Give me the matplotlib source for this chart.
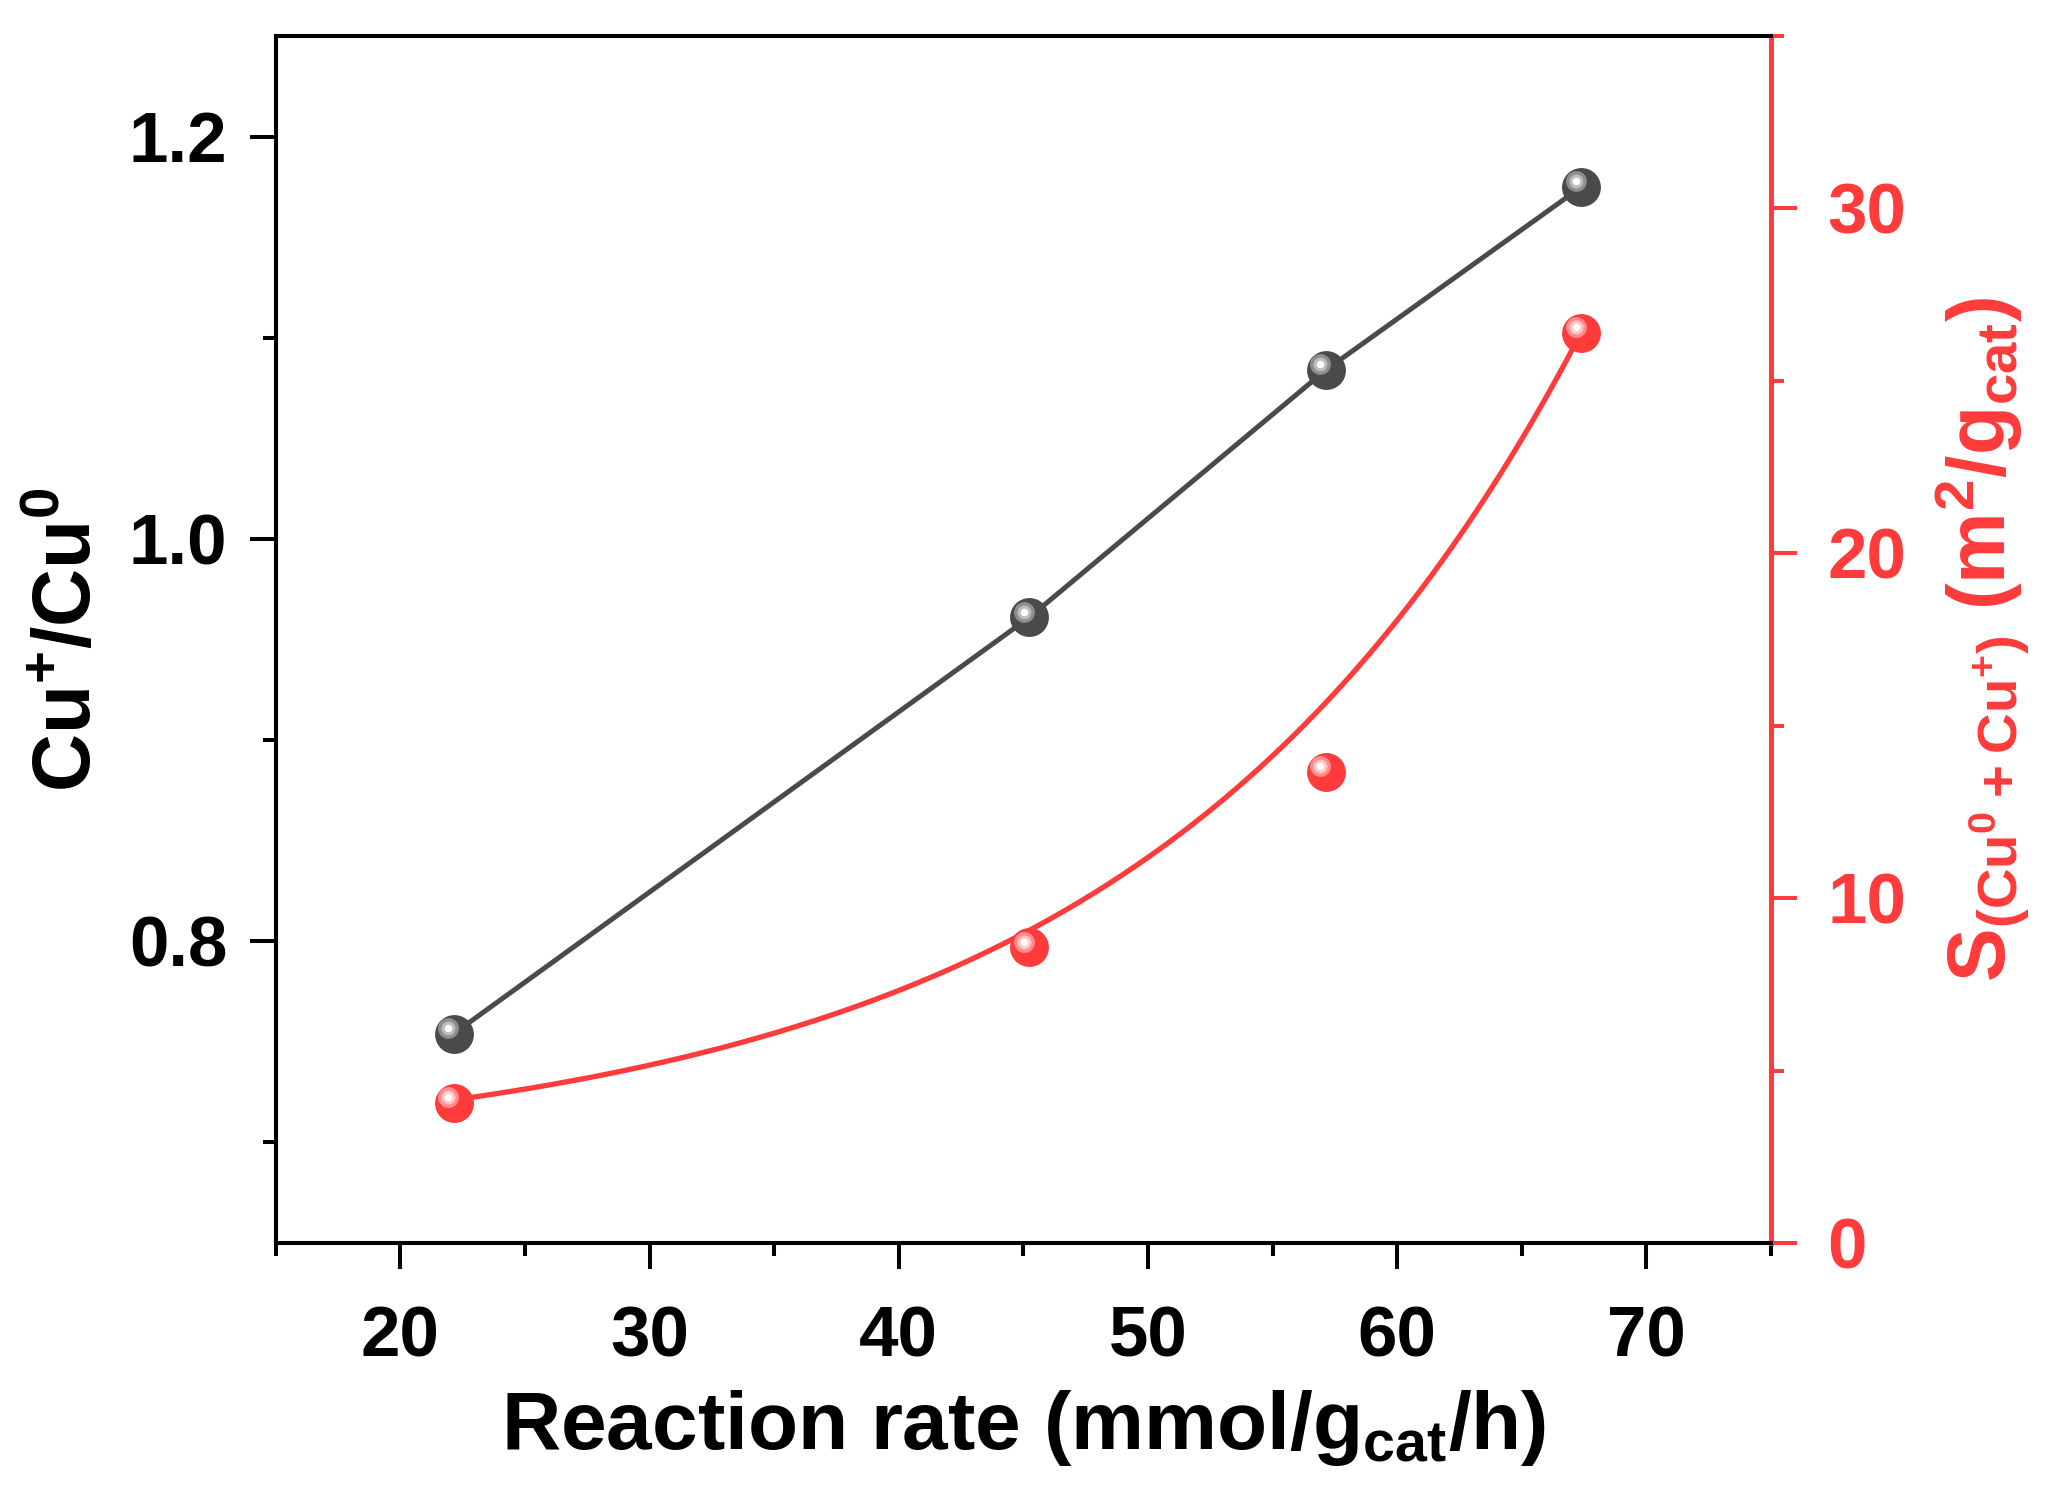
import numpy as np
import matplotlib
matplotlib.use('Agg')
import matplotlib.pyplot as plt
from matplotlib.transforms import offset_copy
from matplotlib.ticker import MultipleLocator

# dados
rate = [22.14, 45.24, 57.14, 67.39]          # mmol/gcat/h
cu_ratio = [0.754, 0.961, 1.084, 1.175]      # Cu+/Cu0
s_area = [4.06, 8.58, 13.66, 26.39]          # m2/gcat

# ajuste exponencial desenhado (y = y0 + A*exp(x/t))
fit_y0 = 2.39
fit_A = 0.4885
fit_t = 17.3

plt.rcParams['font.family'] = ['Liberation Sans', 'DejaVu Sans']
plt.rcParams['font.weight'] = 'bold'
plt.rcParams['mathtext.fontset'] = 'custom'
plt.rcParams['mathtext.rm'] = 'Liberation Sans:bold'
plt.rcParams['mathtext.bf'] = 'Liberation Sans:bold'
plt.rcParams['mathtext.default'] = 'regular'

RED = '#ff3b3b'
GREY = '#4a4a4a'
DPI = 100

fig = plt.figure(figsize=(20.62, 14.90), dpi=DPI)
ax = fig.add_axes([0.1337, 0.1658, 0.7252, 0.81])
ax2 = ax.twinx()


def balls(a, x, y, base, ring1, ring2):
    a.plot(x, y, 'o', ms=28, mfc=base, mec='none', zorder=5)
    tr = offset_copy(a.transData, fig=fig, x=-5.5, y=5.5, units='dots')
    a.plot(x, y, 'o', ms=15, mfc=ring1, mec='none', transform=tr, zorder=6)
    a.plot(x, y, 'o', ms=10, mfc=ring2, mec='none', transform=tr, zorder=7)
    a.plot(x, y, 'o', ms=5.5, mfc='white', mec='none', transform=tr, zorder=8)


# serie Cu+/Cu0
ax.plot(rate, cu_ratio, '-', color=GREY, lw=3.6, zorder=4)
balls(ax, rate, cu_ratio, GREY, '#8e8e8e', '#bdbdbd')

# serie area superficial + curva do ajuste
xx = np.linspace(rate[0], rate[-1], 300)
ax2.plot(xx, fit_y0 + fit_A * np.exp(xx / fit_t), '-', color=RED, lw=3.8, zorder=4)
balls(ax2, rate, s_area, RED, '#ff8c8c', '#ffc4c4')

ax.set_xlim(15, 75)
ax.set_ylim(0.65, 1.25)
ax2.set_ylim(0, 35)

ax.xaxis.set_major_locator(MultipleLocator(10))
ax.xaxis.set_minor_locator(MultipleLocator(5))
ax.yaxis.set_major_locator(MultipleLocator(0.2))
ax.yaxis.set_minor_locator(MultipleLocator(0.1))
ax2.yaxis.set_major_locator(MultipleLocator(10))
ax2.yaxis.set_minor_locator(MultipleLocator(5))
ax.yaxis.set_major_formatter(matplotlib.ticker.FormatStrFormatter('%.1f'))

for a in (ax, ax2):
    for s in a.spines.values():
        s.set_linewidth(2.9)
ax2.spines['right'].set_color(RED)
ax2.spines['right'].set_linewidth(3.6)

ax.tick_params(axis='both', which='major', direction='out', length=18.7, width=2.9,
               labelsize=51)
ax.tick_params(axis='both', which='minor', direction='out', length=9.4, width=2.9)
ax.tick_params(axis='x', which='major', pad=26)
ax.tick_params(axis='y', which='major', pad=16)
ax.tick_params(top=False, right=False, which='both')
ax2.tick_params(axis='y', which='major', direction='out', length=18.7, width=2.9,
                labelsize=51, colors=RED, pad=22)
ax2.tick_params(axis='y', which='minor', direction='out', length=9.4, width=2.9,
                colors=RED)

ax.set_xlabel('Reaction rate (mmol/g$_{cat}$/h)', fontsize=59, fontweight='bold',
              labelpad=12)
ax.set_ylabel('Cu$^{+}$/Cu$^{0}$', fontsize=58, fontweight='bold')
ax.yaxis.set_label_coords(-0.138, 0.5)
ax.yaxis.label.set_verticalalignment('center')

ax2.set_ylabel('S$_{(Cu^{0} + Cu^{+})}$ (m$^{2}$/g$_{cat}$)', fontsize=58,
               fontweight='bold', color=RED, rotation=90)
ax2.yaxis.set_label_coords(1.142, 0.5)
ax2.yaxis.label.set_verticalalignment('center')

fig.savefig('out.png', dpi=DPI)
